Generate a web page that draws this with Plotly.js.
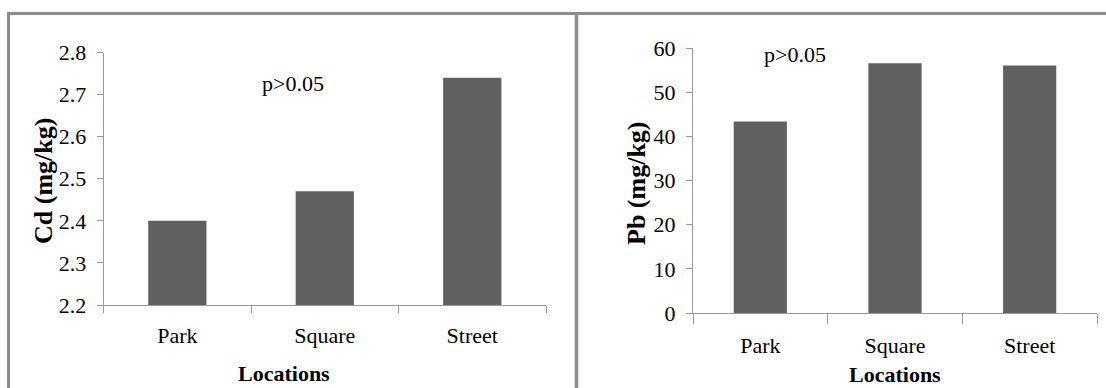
<!DOCTYPE html>
<html>
<head>
<meta charset="utf-8">
<script src="https://cdn.plot.ly/plotly-3.0.1.min.js"></script>
<style>
  html, body { margin: 0; padding: 0; background: #fff; }
  #chart { width: 1106px; height: 388px; }
</style>
</head>
<body>
<div id="chart"></div>
<script>
// ---- data ----
const locations = ['Park', 'Square', 'Street'];
const cdValues = [2.40, 2.47, 2.74];
const pbValues = [43.4, 56.6, 56.1];
const cdTicks = [2.2, 2.3, 2.4, 2.5, 2.6, 2.7, 2.8];
const pbTicks = [0, 10, 20, 30, 40, 50, 60];
const cdTitle = 'Cd (mg/kg)';
const pbTitle = 'Pb (mg/kg)';
const xTitle = 'Locations';
const pNote = 'p>0.05';

// ---- layout helpers (pixel -> paper) ----
const W = 1106, H = 388;
const fx = p => p / W;
const fy = p => 1 - p / H;

const FONT = 'Liberation Serif';
const FS = 22;
const barColor = '#606060';
const axisColor = '#999999';
const borderColor = '#8c8c8c';

const traces = [
  { type: 'bar', x: locations, y: cdValues, xaxis: 'x', yaxis: 'y',
    marker: { color: barColor }, hoverinfo: 'x+y' },
  { type: 'bar', x: locations, y: pbValues, xaxis: 'x2', yaxis: 'y2',
    marker: { color: barColor }, hoverinfo: 'x+y' }
];

const commonX = {
  type: 'category', showline: true, linecolor: axisColor, linewidth: 1,
  ticks: 'outside', tickson: 'boundaries', tickcolor: axisColor, tickwidth: 1,
  showgrid: false, zeroline: false, fixedrange: true,
  tickfont: { family: FONT, size: FS, color: '#000' }
};
const commonY = {
  showline: true, linecolor: axisColor, linewidth: 1,
  ticks: 'outside', tickcolor: axisColor, tickwidth: 1,
  showgrid: false, zeroline: false, fixedrange: true,
  tickfont: { family: FONT, size: FS, color: '#000' }
};

const txt = (text, px, py, extra) => Object.assign({
  text: text, xref: 'paper', yref: 'paper', x: fx(px), y: fy(py),
  xanchor: 'center', yanchor: 'middle', showarrow: false,
  font: { family: FONT, size: FS, color: '#000' }
}, extra || {});

const layout = {
  width: W, height: H,
  margin: { l: 0, r: 0, t: 0, b: 0 },
  paper_bgcolor: '#fff', plot_bgcolor: '#fff',
  font: { family: FONT, color: '#000' },
  showlegend: false,
  bargap: 0.605,
  xaxis: Object.assign({}, commonX, {
    domain: [fx(103.6), fx(546)], anchor: 'y', range: [-0.5, 2.5],
    ticklen: 7, ticklabelstandoff: 11
  }),
  yaxis: Object.assign({}, commonY, {
    domain: [fy(305), fy(52.5)], anchor: 'x', range: [2.2, 2.8],
    tickvals: cdTicks, ticktext: cdTicks.map(v => v.toFixed(1)),
    ticklen: 6, ticklabelstandoff: 6
  }),
  xaxis2: Object.assign({}, commonX, {
    domain: [fx(693), fx(1097)], anchor: 'y2', range: [-0.5, 2.5],
    ticklen: 10, ticklabelstandoff: 13
  }),
  yaxis2: Object.assign({}, commonY, {
    domain: [fy(313), fy(48.3)], anchor: 'x2', range: [0, 60],
    tickvals: pbTicks, ticktext: pbTicks.map(String),
    ticklen: 6, ticklabelstandoff: 6
  }),
  annotations: [
    txt(pNote, 293, 83),
    txt(pNote, 795, 55),
    txt('<b>' + xTitle + '</b>', 284, 373),
    txt('<b>' + xTitle + '</b>', 895, 374),
    txt('<b>' + cdTitle + '</b>', 43, 181, { textangle: -90, font: { family: FONT, size: 26, color: '#000' } }),
    txt('<b>' + pbTitle + '</b>', 636, 183, { textangle: -90, font: { family: FONT, size: 26, color: '#000' } })
  ],
  shapes: [
    // frame: top border, left border, divider between panels
    { type: 'line', xref: 'paper', yref: 'paper', x0: fx(7), x1: 1, y0: fy(13.5), y1: fy(13.5),
      line: { color: borderColor, width: 3 } },
    { type: 'line', xref: 'paper', yref: 'paper', x0: fx(8.5), x1: fx(8.5), y0: fy(12), y1: 0,
      line: { color: borderColor, width: 3 } },
    { type: 'line', xref: 'paper', yref: 'paper', x0: fx(576.5), x1: fx(576.5), y0: fy(12), y1: 0,
      line: { color: borderColor, width: 3.5 } }
  ]
};

Plotly.newPlot('chart', traces, layout, { displayModeBar: false, staticPlot: true });
</script>
</body>
</html>
